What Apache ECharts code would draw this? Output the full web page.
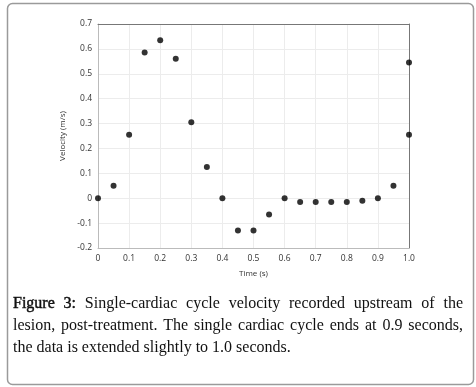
<!DOCTYPE html>
<html>
<head>
<meta charset="utf-8">
<script src="https://cdn.jsdelivr.net/npm/echarts@6/dist/echarts.min.js"></script>
<style>
html,body{margin:0;padding:0;background:#fff;}
#wrap{position:relative;width:476px;height:387px;}
#chart{position:absolute;left:0;top:0;width:476px;height:387px;}
#cap{position:absolute;left:13px;top:292px;width:450px;font-family:"Liberation Serif","Times New Roman",serif;font-size:16px;line-height:22px;color:#111;text-align:justify;}
#cap b{font-weight:normal;-webkit-text-stroke:0.45px #111;}
</style>
</head>
<body>
<div id="wrap">
<div id="chart"></div>
<div id="cap"><b>Figure 3:</b> Single-cardiac cycle velocity recorded upstream of the lesion, post-treatment. The single cardiac cycle ends at 0.9 seconds, the data is extended slightly to 1.0 seconds.</div>
</div>
<script>
var timeValues = [0, 0.05, 0.1, 0.15, 0.2, 0.25, 0.3, 0.35, 0.4, 0.45, 0.5, 0.55, 0.6, 0.65, 0.7, 0.75, 0.8, 0.85, 0.9, 0.95, 1.0, 1.0];
var velocityValues = [0, 0.05, 0.255, 0.585, 0.635, 0.56, 0.305, 0.125, 0, -0.13, -0.13, -0.065, 0, -0.015, -0.015, -0.015, -0.015, -0.01, 0, 0.05, 0.255, 0.545];
var xTitle = 'Time (s)';
var yTitle = 'Velocity (m/s)';

var chart = echarts.init(document.getElementById('chart'), null, {renderer: 'canvas'});
var pts = timeValues.map(function (t, i) { return [t, velocityValues[i]]; });
var lblFont = {fontFamily: 'Open Sans', fontSize: 8.5, color: '#333'};
function xf(v) { if (Math.abs(v) < 1e-9) return '0'; return v.toFixed(1); }
function yf(v) { if (Math.abs(v) < 1e-9) return '0'; return v.toFixed(1); }
chart.setOption({
  animation: false,
  backgroundColor: '#fff',
  graphic: [{
    type: 'rect', left: 5, top: 1,
    shape: {width: 466, height: 381, r: 5},
    style: {fill: 'none', stroke: '#9a9a9a', lineWidth: 1.5},
    silent: true
  }],
  grid: {left: 98, right: 67, top: 24, bottom: 139},
  xAxis: [{
    type: 'value', min: 0, max: 1, interval: 0.1,
    name: xTitle, nameLocation: 'middle', nameGap: 22,
    nameTextStyle: {fontFamily: 'Open Sans', fontSize: 8, color: '#333'},
    axisLine: {show: true, onZero: false, lineStyle: {color: '#bbb', width: 1}},
    axisTick: {show: false},
    axisLabel: Object.assign({formatter: xf, margin: 6}, lblFont),
    splitLine: {show: true, lineStyle: {color: '#ececec', width: 1}}
  }, {
    type: 'value', position: 'top', min: 0, max: 1, interval: 0.1,
    axisLine: {show: true, onZero: false, lineStyle: {color: '#777', width: 1}},
    axisTick: {show: false}, axisLabel: {show: false}, splitLine: {show: false}
  }],
  yAxis: [{
    type: 'value', min: -0.2, max: 0.7, interval: 0.1,
    name: yTitle, nameLocation: 'middle', nameGap: 30,
    nameTextStyle: {fontFamily: 'Open Sans', fontSize: 8, color: '#333'},
    axisLine: {show: true, onZero: false, lineStyle: {color: '#bbb', width: 1}},
    axisTick: {show: false},
    axisLabel: Object.assign({formatter: yf, margin: 6}, lblFont),
    splitLine: {show: true, lineStyle: {color: '#ececec', width: 1}}
  }, {
    type: 'value', position: 'right', min: -0.2, max: 0.7, interval: 0.1,
    axisLine: {show: true, onZero: false, lineStyle: {color: '#777', width: 1}},
    axisTick: {show: false}, axisLabel: {show: false}, splitLine: {show: false}
  }],
  series: [{
    type: 'scatter',
    data: pts,
    symbol: 'circle',
    symbolSize: 6,
    itemStyle: {color: '#000'},
    z: 5
  }]
});
</script>
</body>
</html>
